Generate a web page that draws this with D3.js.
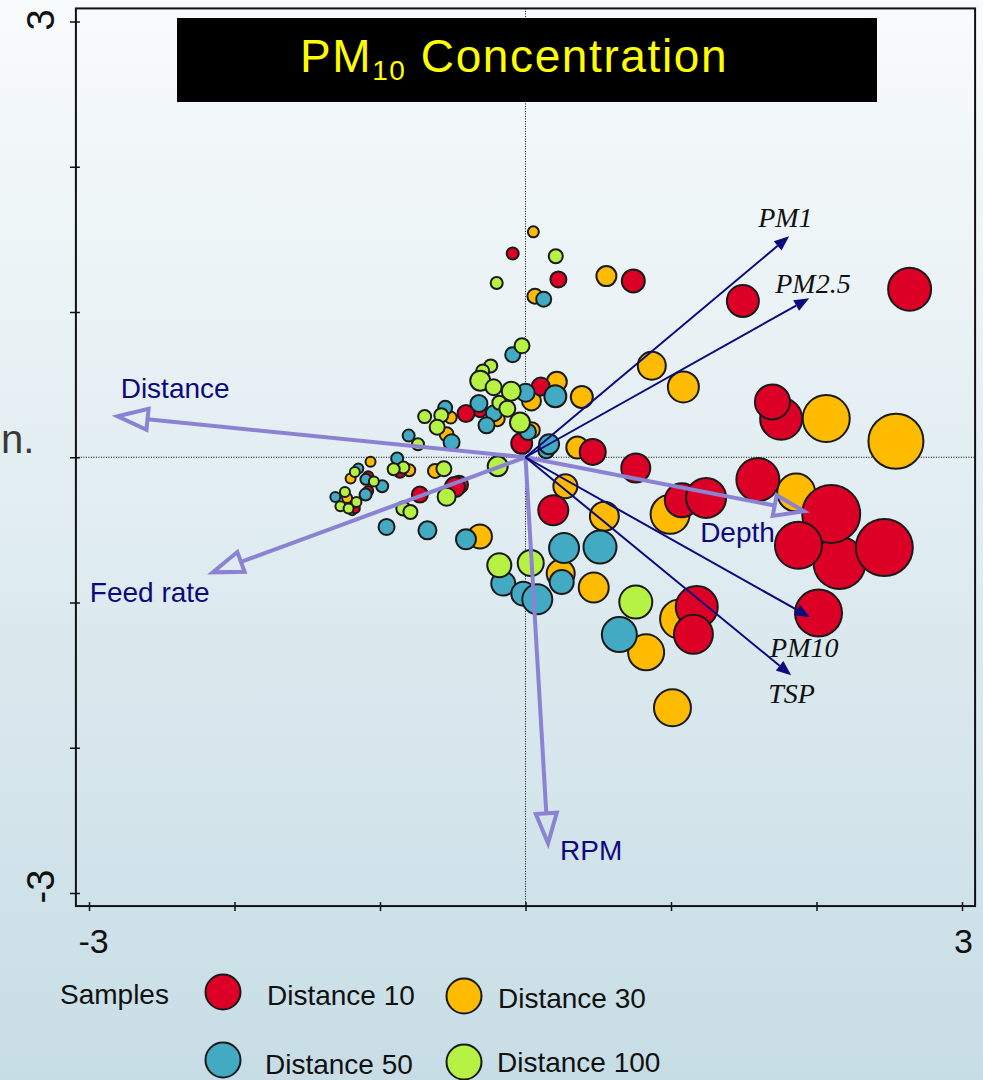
<!DOCTYPE html>
<html>
<head>
<meta charset="utf-8">
<script src="https://cdn.jsdelivr.net/npm/d3@7"></script>
<style>
  html, body { margin: 0; padding: 0; }
  body { width: 983px; height: 1080px; overflow: hidden; }
  svg { display: block; }
</style>
</head>
<body>
<svg id="chart" width="983" height="1080"></svg>
<script>
// ---- Sample scores: [axis 1, axis 2, PM10 concentration] ----
const dist10 = [
  [-0.088, 1.403, 60], [0.226, 1.224, 80], [0.741, 1.214, 115], [1.494, 1.076, 160],
  [2.640, 1.157, 215], [0.105, 0.487, 90], [-0.313, 0.324, 70], [-0.409, 0.301, 85],
  [-0.026, 0.096, 105], [0.462, 0.037, 130], [0.758, -0.074, 145], [1.757, 0.265, 210],
  [1.697, 0.381, 175], [1.597, -0.154, 215], [1.074, -0.296, 170], [1.241, -0.280, 200],
  [2.158, -0.728, 260], [2.101, -0.390, 290], [1.876, -0.606, 235], [2.466, -0.622, 285],
  [2.014, -1.072, 235], [0.191, -0.365, 150], [1.177, -1.031, 210], [1.154, -1.219, 195],
  [-0.457, -0.189, 90], [-0.485, -0.205, 100], [-0.726, -0.257, 80], [-0.863, -0.100, 60],
  [-1.081, -0.131, 50], [-1.081, -0.232, 50], [-1.173, -0.351, 50]
];
const dist30 = [
  [0.054, 1.552, 55], [0.556, 1.247, 100], [0.065, 1.109, 75], [0.215, 0.519, 100],
  [0.387, 0.415, 110], [0.041, 0.388, 95], [-0.194, 0.265, 75], [-0.514, 0.273, 60],
  [-0.542, 0.158, 70], [0.043, 0.186, 80], [0.356, 0.067, 110], [0.868, 0.630, 140],
  [1.085, 0.484, 155], [2.067, 0.267, 235], [2.546, 0.110, 275], [0.274, -0.200, 120],
  [0.542, -0.406, 145], [0.994, -0.393, 195], [1.860, -0.243, 190], [-0.313, -0.546, 120],
  [0.242, -0.801, 140], [0.469, -0.897, 150], [1.059, -1.114, 195], [0.829, -1.343, 180],
  [1.010, -1.725, 185], [-0.622, -0.094, 70], [-0.799, -0.090, 60], [-1.065, -0.031, 50],
  [-1.202, -0.147, 50], [-1.226, -0.281, 50], [-1.191, -0.372, 40]
];
const dist50 = [
  [0.125, 1.088, 75], [-0.088, 0.706, 75], [0.205, 0.420, 110], [0.001, 0.444, 90],
  [-0.320, 0.370, 85], [-0.217, 0.303, 80], [-0.268, 0.220, 80], [-0.552, 0.340, 70],
  [-0.508, 0.103, 80], [-0.803, 0.149, 60], [0.017, 0.174, 80], [0.143, 0.048, 80],
  [0.162, 0.090, 100], [-0.882, -0.009, 60], [-1.149, -0.078, 50], [-1.097, -0.152, 55],
  [-0.985, -0.200, 60], [-1.099, -0.257, 60], [-1.307, -0.273, 50], [-0.955, -0.480, 80],
  [-0.674, -0.503, 90], [-0.409, -0.565, 100], [0.265, -0.625, 150], [0.512, -0.618, 165],
  [-0.153, -0.870, 120], [-0.015, -0.939, 120], [0.081, -0.978, 150], [0.249, -0.859, 120],
  [0.645, -1.221, 175]
];
const dist100 = [
  [0.208, 1.384, 70], [-0.198, 1.200, 60], [-0.024, 0.767, 75], [-0.239, 0.629, 65],
  [-0.294, 0.594, 65], [-0.311, 0.527, 100], [-0.219, 0.482, 80], [-0.098, 0.455, 95],
  [-0.180, 0.375, 70], [-0.125, 0.334, 80], [-0.579, 0.289, 70], [-0.693, 0.280, 65],
  [-0.607, 0.207, 75], [-0.038, 0.239, 100], [-0.739, 0.090, 60], [-0.191, -0.062, 100],
  [-0.839, -0.071, 60], [-0.906, -0.083, 60], [-0.561, -0.079, 75], [-1.173, -0.101, 50],
  [-1.042, -0.167, 50], [-1.241, -0.239, 50], [-1.162, -0.308, 50], [-1.272, -0.337, 50],
  [-1.216, -0.353, 50], [-0.542, -0.272, 90], [-0.840, -0.353, 70], [-0.791, -0.377, 70],
  [-0.180, -0.744, 120], [0.036, -0.728, 130], [0.758, -0.997, 165]
];

// ---- Explanatory variables (open arrows) ----
const envNames = ["Distance", "Feed rate", "RPM", "Depth"];
const envX = [-2.803, -2.149, 0.155, 1.915];
const envY = [0.282, -0.792, -2.658, -0.372];

// ---- Response variables (filled arrows) ----
const respNames = ["PM1", "PM2.5", "PM10", "TSP"];
const respX = [1.812, 1.950, 1.956, 1.826];
const respY = [1.522, 1.095, -1.102, -1.501];

// ---- Axis ticks and legend ----
const tickValues = [-3, -2, -1, 0, 1, 2, 3];
const tickLabels = ["-3", "", "", "", "", "", "3"];
const seriesNames = ["Distance 10", "Distance 30", "Distance 50", "Distance 100"];

const colors = ["#dc0026", "#ffbb00", "#42aac2", "#b6f243"];
const seriesData = [dist10, dist30, dist50, dist100];

const svg = d3.select("#chart");

// page background gradient
const defs = svg.append("defs");
const grad = defs.append("linearGradient").attr("id", "bg").attr("x1", 0).attr("y1", 0).attr("x2", 0).attr("y2", 1);
grad.append("stop").attr("offset", "0%").attr("stop-color", "#f8fbfc");
grad.append("stop").attr("offset", "100%").attr("stop-color", "#c7dde5");
svg.append("rect").attr("width", 983).attr("height", 1080).attr("fill", "url(#bg)");

// fragment of slide text behind the chart
svg.append("text").attr("x", 1).attr("y", 453)
  .attr("font-family", "Liberation Sans, Arial, sans-serif").attr("font-size", 40)
  .attr("fill", "#3a3a3a").text("n.");

const x = d3.scaleLinear().domain([-3, 3]).range([89, 962]);
const y = d3.scaleLinear().domain([-3, 3]).range([893, 21.5]);
const r = d3.scaleLinear().domain([0, 300]).range([0, 30]);
const lim = 3.09;

const plot = svg.append("g");

// zero reference lines
plot.append("line").attr("x1", x(-lim)).attr("x2", x(lim)).attr("y1", y(0)).attr("y2", y(0))
  .attr("stroke", "#000").attr("stroke-width", 1).attr("stroke-dasharray", "1,1.5");
plot.append("line").attr("x1", x(0)).attr("x2", x(0)).attr("y1", y(lim)).attr("y2", y(-lim))
  .attr("stroke", "#000").attr("stroke-width", 1).attr("stroke-dasharray", "1,1.5");

// sample bubbles
const drawOrder = [1, 0, 2, 3];
drawOrder.forEach(si => {
  plot.append("g").selectAll("circle").data(seriesData[si]).join("circle")
    .attr("cx", d => x(d[0])).attr("cy", d => y(d[1])).attr("r", d => r(d[2]))
    .attr("fill", colors[si]).attr("stroke", "#1a1a1a").attr("stroke-width", 2);
});

// frame
svg.append("rect").attr("x", x(-lim)).attr("y", y(lim))
  .attr("width", x(lim) - x(-lim)).attr("height", y(-lim) - y(lim))
  .attr("fill", "none").attr("stroke", "#111").attr("stroke-width", 2);

// axes
const fmt = d => tickLabels[tickValues.indexOf(d)];
const xAxis = svg.append("g").attr("transform", `translate(0,${y(-lim)})`)
  .call(d3.axisBottom(x).tickValues(tickValues).tickFormat(fmt).tickSize(5).tickPadding(18));
xAxis.select(".domain").remove();
xAxis.selectAll(".tick line").attr("y1", -4).attr("stroke", "#111").attr("stroke-width", 1.5);
xAxis.selectAll(".tick text").attr("font-family", "Liberation Sans, Arial, sans-serif")
  .attr("font-size", 34).attr("fill", "#111").attr("dx", d => d < 0 ? 4 : 1);

const yAxis = svg.append("g").attr("transform", `translate(${x(-lim)},0)`)
  .call(d3.axisLeft(y).tickValues(tickValues).tickFormat(fmt).tickSize(5));
yAxis.select(".domain").remove();
yAxis.selectAll(".tick line").attr("x1", 4).attr("x2", -6).attr("stroke", "#111").attr("stroke-width", 1.5);
yAxis.selectAll(".tick text")
  .attr("x", null).attr("dy", null)
  .attr("transform", d => `translate(-22,${d < 0 ? -7 : -2}) rotate(-90)`)
  .attr("text-anchor", "middle")
  .attr("font-family", "Liberation Sans, Arial, sans-serif")
  .attr("font-size", 38).attr("fill", "#111");

// arrows
const origin = [x(0), y(0)];
function arrowGeom(tx, ty, len, half) {
  const dx = tx - origin[0], dy = ty - origin[1];
  const L = Math.hypot(dx, dy);
  const ux = dx / L, uy = dy / L;
  const bx = tx - ux * len, by = ty - uy * len;
  return { bx, by, pts: [[tx, ty], [bx - uy * half, by + ux * half], [bx + uy * half, by - ux * half]] };
}

const envColor = "#8c82d4";
const labelFont = "Liberation Sans, Arial, sans-serif";
const envLabelOffset = { "Distance": [3, -18], "Feed rate": [-123, 30], "RPM": [12, 17], "Depth": [-104, 31] };
envNames.forEach((name, i) => {
  const tx = x(envX[i]), ty = y(envY[i]);
  const g = arrowGeom(tx, ty, 30, 10.5);
  svg.append("line").attr("x1", origin[0]).attr("y1", origin[1]).attr("x2", g.bx).attr("y2", g.by)
    .attr("stroke", envColor).attr("stroke-width", 4);
  svg.append("polygon").attr("points", g.pts.map(p => p.join(",")).join(" "))
    .attr("fill", "none").attr("stroke", envColor).attr("stroke-width", 4).attr("stroke-linejoin", "miter");
});

const respColor = "#0c0a7e";
const respLabelOffset = { "PM1": [-31, -9], "PM2.5": [-34, -5], "PM10": [-40, 40], "TSP": [-23, 28] };
respNames.forEach((name, i) => {
  const tx = x(respX[i]), ty = y(respY[i]);
  const g = arrowGeom(tx, ty, 15, 6);
  svg.append("line").attr("x1", origin[0]).attr("y1", origin[1]).attr("x2", g.bx).attr("y2", g.by)
    .attr("stroke", respColor).attr("stroke-width", 2);
  svg.append("polygon").attr("points", g.pts.map(p => p.join(",")).join(" "))
    .attr("fill", respColor);
});

envNames.forEach((name, i) => {
  const o = envLabelOffset[name];
  svg.append("text").attr("x", x(envX[i]) + o[0]).attr("y", y(envY[i]) + o[1])
    .attr("font-family", labelFont).attr("font-size", 28).attr("fill", "#0e0a7c").text(name);
});
respNames.forEach((name, i) => {
  const o = respLabelOffset[name];
  svg.append("text").attr("x", x(respX[i]) + o[0]).attr("y", y(respY[i]) + o[1])
    .attr("font-family", "Liberation Serif, Times New Roman, serif").attr("font-style", "italic")
    .attr("font-size", 28).attr("fill", "#111").text(name);
});

// title box
svg.append("rect").attr("x", 177).attr("y", 18).attr("width", 700).attr("height", 84).attr("fill", "#000");
const title = svg.append("text").attr("x", 514).attr("y", 72).attr("text-anchor", "middle")
  .attr("font-family", "Liberation Sans, Arial, sans-serif").attr("font-size", 46)
  .attr("letter-spacing", 1.6).attr("fill", "#ffff00");
title.append("tspan").text("PM");
title.append("tspan").attr("font-size", 28).attr("dy", 8).text("10");
title.append("tspan").attr("dy", -8).text(" Concentration");

// legend
svg.append("text").attr("x", 60).attr("y", 1004).attr("font-family", labelFont).attr("font-size", 28)
  .attr("fill", "#111").text("Samples");
const legendPos = [[223, 992, 267, 1005], [464, 996, 498, 1008], [223, 1060, 265, 1074], [464, 1062, 497, 1072]];
seriesNames.forEach((name, i) => {
  const p = legendPos[i];
  svg.append("circle").attr("cx", p[0]).attr("cy", p[1]).attr("r", 17.5)
    .attr("fill", colors[i]).attr("stroke", "#1a1a1a").attr("stroke-width", 2);
  svg.append("text").attr("x", p[2]).attr("y", p[3]).attr("font-family", labelFont).attr("font-size", 28)
    .attr("fill", "#111").text(name);
});
</script>
</body>
</html>
